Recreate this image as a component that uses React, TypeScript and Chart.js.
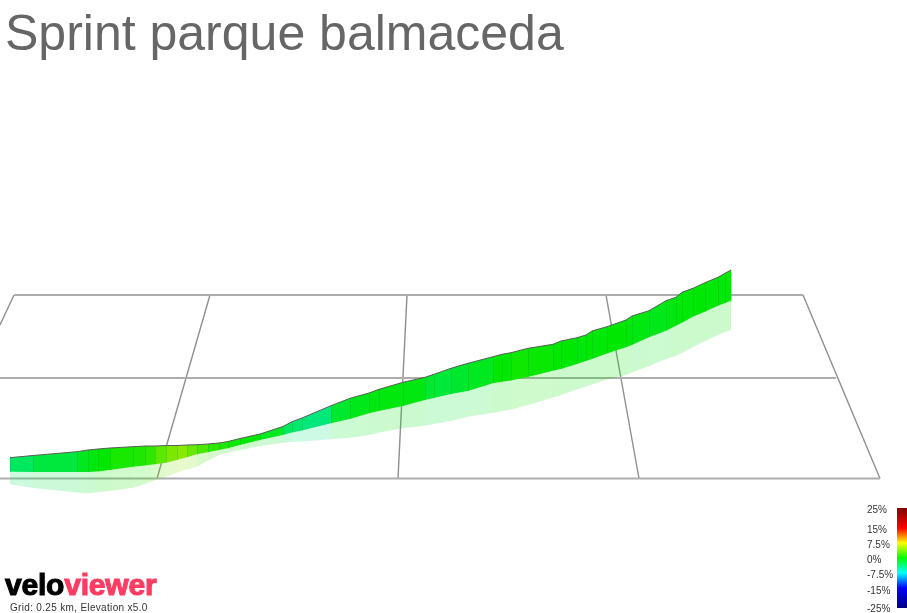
import React, { useEffect, useRef } from "react";
import { Chart, registerables } from "chart.js";

Chart.register(...registerables);

const titleText = "Sprint parque balmaceda";
const captionText = "Grid: 0.25 km, Elevation x5.0";

// route stations, in projected view units
const stationX = [10,33,77,88,98,110,133,145,155,166,177,187,197,208,219,228,240,260,283,292,302,331,350,369,379,403,425,434,451,468,493,502,511,528,553,561,577,586,592,607,626,632,649,666,676,682,693,705,718,725,731];
const ribbonTop = [457.7,455.5,451.7,450,449,448,446.7,446,446,445.6,445.5,445,444.7,444,443,441.5,438.5,434,426.5,421.7,418,405.7,398.3,393,389.3,382.3,377.3,374.3,368.3,363.3,356.7,354.3,352.7,348.3,344.3,341,337.7,335,331,326.7,320,316,310.7,300.7,297.3,292.3,288.3,282.7,277.3,273.3,270];
const ribbonBottom = [471.7,472,472,472,471.5,470,466.7,465.5,464.3,462.7,460,457.3,454.3,452.3,450,448.3,445,440,435,432.5,430.5,423.3,419,413.3,411,406,400,398,394,391,383.3,381.7,380.5,377,370.7,369,364,361,359,353.5,347.3,345,337.3,330.7,325.7,322.7,316.7,311.7,305.7,303,300.7];
const shadowBottom = [484.3,488,492.5,493.3,492,491,487.7,484,480,476.7,472.7,469.5,466.7,460.5,455,452.5,450,446,442.7,442,441.5,439.3,437.7,435,432.5,428,425.7,424,421,416.7,412.7,411,409.5,405,397.5,395,389.5,386.5,384.5,379.5,375,372.5,366,359,355.7,353,347,341,335,332,330];
// gradient (%) of the segment that starts at each station
const segmentGrade = [-3,-2,-1,-0.5,0,0.8,1,1.5,3,4,4.5,3.5,2.5,1.5,1,0.5,0,-1,-3,-3.5,-4,-1.5,-0.8,-0.5,-0.4,-0.5,-1.5,-1.8,-1.5,-1,0,0,0.5,0.3,0,0,-0.3,0,-0.2,0,-0.3,-0.5,-0.8,-0.5,-0.2,-0.2,0,-0.2,-0.3,-0.2];

// ground grid
const gridFromX = [14,0,0,14,210,407,606,803];
const gridFromY = [295,378,478.5,295,295,295,295,295];
const gridToX = [803,836,880,0,157,398,639,880];
const gridToY = [295,378,478.5,325,478.5,478.5,478.5,478.5];

// gradient legend
const legendGrades = [25,15,7.5,0,-7.5,-15,-25];
const legendLabels = ["25%","15%","7.5%","0%","-7.5%","-15%","-25%"];
const legendColors = ["#800000","#ff0000","#ffff00","#00ff00","#00ffff","#0000ff","#000080"];
const legendLabelY = [510,530,545,560,575,591,609];
const legendBarX = [897,907];
const legendBarY = [508,608];

function gradeRgb(g: number): [number, number, number] {
  const shade = 0.91;
  const t = Math.min(1, Math.abs(g) / 7.5);
  return g >= 0
    ? [255 * t * shade, 255 * shade, 0]
    : [0, 255 * shade, 255 * t * shade];
}
const css = (g: number, a: number) => {
  const [r, gr, b] = gradeRgb(g);
  return `rgba(${Math.round(r)},${Math.round(gr)},${Math.round(b)},${a})`;
};

const hidden = { showLine: false, borderWidth: 0, borderColor: "rgba(0,0,0,0)", pointRadius: 0, fill: false as const };

function buildDatasets() {
  const ds: any[] = [];
  // grid lines, bottom layer
  gridFromX.forEach((x, i) => {
    ds.push({
      data: [{ x, y: gridFromY[i] }, { x: gridToX[i], y: gridToY[i] }],
      borderColor: i < 3 ? "#adadad" : "#8f8f8f",
      borderWidth: i < 3 ? 2 : 1.4,
      pointRadius: 0,
      fill: false,
      order: 5,
    });
  });
  // see-through shadow, then the ribbon, one band per segment
  const band = (upper: number[], lower: number[], alpha: number, order: number) => {
    segmentGrade.forEach((g, i) => {
      ds.push({
        data: [{ x: stationX[i], y: upper[i] }, { x: stationX[i + 1], y: upper[i + 1] }],
        ...hidden,
        fill: "+1",
        backgroundColor: css(g, alpha),
        order,
      });
      ds.push({
        data: [{ x: stationX[i], y: lower[i] }, { x: stationX[i + 1], y: lower[i + 1] }],
        ...hidden,
        order,
      });
    });
  };
  band(ribbonBottom, shadowBottom, 0.2, 4);
  band(ribbonTop, ribbonBottom, 1, 3);
  // seams between ribbon segments
  stationX.forEach((x, i) => {
    ds.push({
      data: [{ x: x + 0.5, y: ribbonTop[i] }, { x: x + 0.5, y: ribbonBottom[i] }],
      borderColor: "rgba(0,150,60,0.08)",
      borderWidth: 1,
      pointRadius: 0,
      fill: false,
      order: 2,
    });
  });
  // top edge
  ds.push({
    data: stationX.map((x, i) => ({ x, y: ribbonTop[i] })),
    borderColor: "#5a5a5a",
    borderWidth: 1,
    pointRadius: 0,
    fill: false,
    order: 1,
  });
  // legend bar
  ds.push({
    data: legendBarX.map((x) => ({ x, y: legendBarY[0] })),
    ...hidden,
    fill: "+1",
    backgroundColor: (ctx: any) => {
      const { chart } = ctx;
      const y = chart.scales.y;
      const y0 = y ? y.getPixelForValue(legendBarY[0]) : NaN;
      const y1 = y ? y.getPixelForValue(legendBarY[1]) : NaN;
      if (!Number.isFinite(y0) || !Number.isFinite(y1)) return "#000000";
      const grad = chart.ctx.createLinearGradient(0, y0, 0, y1);
      legendGrades.forEach((g, i) => grad.addColorStop((25 - g) / 50, legendColors[i]));
      return grad;
    },
    order: 1,
  });
  ds.push({
    data: legendBarX.map((x) => ({ x, y: legendBarY[1] })),
    ...hidden,
    order: 1,
  });
  return ds;
}

export default function App() {
  const ref = useRef<HTMLCanvasElement>(null);
  useEffect(() => {
    document.body.style.margin = "0";
    const chart = new Chart(ref.current!, {
      type: "line",
      data: { datasets: buildDatasets() },
      options: {
        animation: false,
        responsive: false,
        devicePixelRatio: 1,
        parsing: false,
        normalized: false,
        layout: { padding: 0 },
        events: [],
        elements: { line: { tension: 0 } },
        plugins: { legend: { display: false }, tooltip: { enabled: false }, title: { display: false } },
        scales: {
          x: { type: "linear", min: 0, max: 907, display: false },
          y: { type: "linear", min: 0, max: 613, reverse: true, display: false },
        },
      } as any,
    });
    return () => chart.destroy();
  }, []);

  const arial = '"Liberation Sans", Arial, sans-serif';
  const abs: React.CSSProperties = { position: "absolute", whiteSpace: "nowrap", fontFamily: arial };
  return (
    <div style={{ position: "relative", width: 907, height: 613, overflow: "hidden", background: "#fff" }}>
      <canvas ref={ref} width={907} height={613} style={{ position: "absolute", left: 0, top: 0, display: "block" }} />
      <div style={{ ...abs, left: 5, top: 5, fontSize: 50, lineHeight: "56px", color: "#666666" }}>{titleText}</div>
      {legendLabels.map((t, i) => (
        <div key={t} style={{ ...abs, left: 867, top: legendLabelY[i] - 6, fontSize: 10, lineHeight: "12px", color: "#333" }}>{t}</div>
      ))}
      <div style={{ ...abs, left: 5, top: 569, fontSize: 30, lineHeight: "32px", fontWeight: 700, letterSpacing: -0.2, WebkitTextStroke: "1.1px currentColor" } as any}>
        <span style={{ color: "#000" }}>velo</span>
        <span style={{ color: "#ff3d62" }}>viewer</span>
      </div>
      <div style={{ ...abs, left: 10, top: 602, fontSize: 10, lineHeight: "12px", letterSpacing: 0.32, color: "#333" }}>{captionText}</div>
    </div>
  );
}
